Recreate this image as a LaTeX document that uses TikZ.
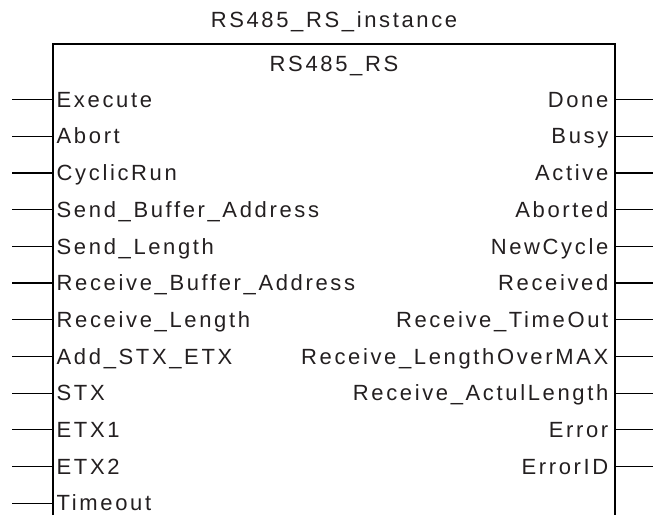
\documentclass[tikz,border=0pt]{standalone}
\usepackage{fontspec}
\setmainfont[LetterSpace=12]{Liberation Sans}
\definecolor{txt}{HTML}{231F20}
\tikzset{
  pinline/.style={line width=1.2pt, black},
  boxline/.style={line width=1.2pt, black},
  lbl/.style={inner ysep=0pt, text height=15.5pt, text depth=0pt, font=\fontsize{22}{25}\selectfont, text=txt},
  inlbl/.style={lbl, anchor=west, inner xsep=3.5pt},
  outlbl/.style={lbl, anchor=east, inner xsep=6.5pt},
  ttl/.style={lbl, anchor=base, inner sep=0pt}
}
\begin{document}
\begin{tikzpicture}[x=1pt,y=1pt]
\useasboundingbox (0,0) rectangle (653,-515);
% box
\coordinate (bl) at (53,-515);
\coordinate (tl) at (53,-44);
\coordinate (tr) at (615,-44);
\coordinate (br) at (615,-515);
\draw[boxline] (bl) -- (tl) -- (tr) -- (br);
% titles
\node[ttl] (inst) at (334,-27) {RS485\_RS\_instance};
\node[ttl] (fb) at (334,-71) {RS485\_RS};
% inputs
\foreach \i/\t in {0/Execute,1/Abort,2/CyclicRun,3/Send\_Buffer\_Address,4/Send\_Length,5/Receive\_Buffer\_Address,6/Receive\_Length,7/Add\_STX\_ETX,8/STX,9/ETX1,10/ETX2,11/Timeout}{
  \node[inlbl] (in\i) at (53,{-99.5-36.7*\i}) {\t};
  \coordinate (ie\i) at (12,{-99.5-36.7*\i});
  \draw[pinline] (ie\i) -- (in\i.west);
}
% outputs
\foreach \i/\t in {0/Done,1/Busy,2/Active,3/Aborted,4/NewCycle,5/Received,6/Receive\_TimeOut,7/Receive\_LengthOverMAX,8/Receive\_ActulLength,9/Error,10/ErrorID}{
  \node[outlbl] (out\i) at (615,{-99.5-36.7*\i}) {\t};
  \coordinate (oe\i) at (653,{-99.5-36.7*\i});
  \draw[pinline] (out\i.east) -- (oe\i);
}
\end{tikzpicture}
\end{document}
